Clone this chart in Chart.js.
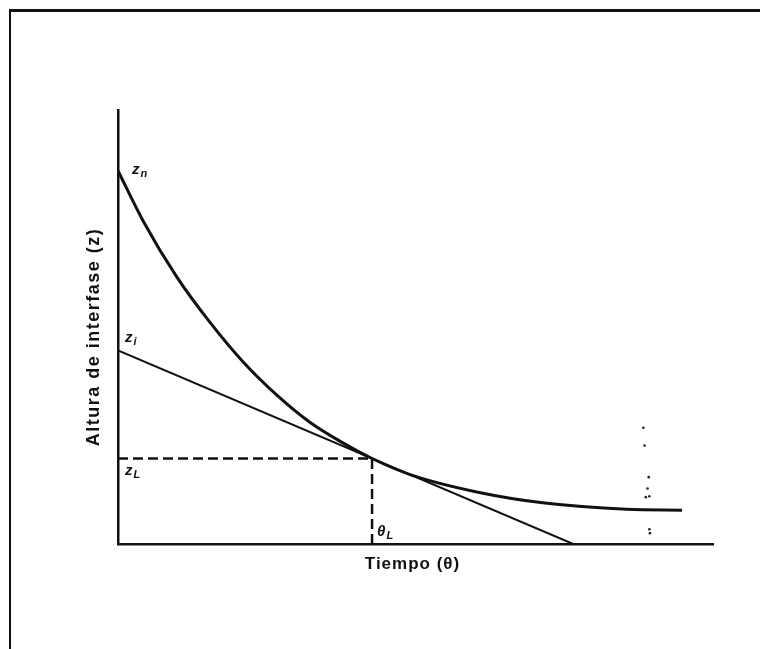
<!DOCTYPE html>
<html>
<head>
  <title>Altura de interfase vs tiempo</title>
  <style>
    body {
      margin: 0;
      background-color: #ffffff;
    }
    .frame {
      position: absolute;
      left: 9px;
      top: 9px;
      width: 760px;
      height: 660px;
      border-left: 2px solid #111;
      border-top: 3px solid #111;
    }
    canvas {
      position: absolute;
      left: 0;
      top: 0;
    }
  </style>
</head>
<body>
  <div class="frame"></div>
  <canvas id="settlingChart" width="760" height="649"></canvas>

  <script src="https://cdn.jsdelivr.net/npm/chart.js"></script>
  <script>
    // curva de sedimentacion (tiempo, altura de interfase)
    const timeTheta = [0, 4.2, 9.9, 15.5, 21.0, 26.7, 32.3, 37.8, 42.7, 49.1, 60.3, 71.4, 85.5, 94.8];
    const heightZ = [86, 74.5, 61.5, 51.0, 42.0, 34.3, 28.0, 23.3, 19.7, 16.0, 12.0, 9.5, 8.0, 7.8];

    // tangente en el punto (thetaL, zL)
    const tangentTheta = [0, 76.5];
    const tangentZ = [44.6, 0];
    const thetaL = 42.7;
    const zL = 19.7;

    // manchas del escaneo a la derecha
    const speckTheta = [88.3, 88.5, 89.2, 89.0, 88.7, 89.3, 89.3, 89.4, 88.8, 88.2];
    const speckZ = [26.8, 22.7, 15.4, 12.8, 10.8, 11.0, 3.4, 2.5, -14.9, -20.4];

    const toPoints = (xs, ys) => xs.map((v, i) => ({ x: v, y: ys[i] }));

    const labelsPlugin = {
      id: 'labels',
      afterDraw(chart) {
        const ctx = chart.ctx;
        const x = chart.scales.x;
        const y = chart.scales.y;
        ctx.save();
        ctx.fillStyle = '#111';

        function symbol(main, sub, px, py) {
          ctx.textAlign = 'left';
          ctx.textBaseline = 'alphabetic';
          ctx.font = 'italic bold 15px "Liberation Sans"';
          ctx.fillText(main, px, py);
          const w = ctx.measureText(main).width;
          ctx.font = 'italic bold 11px "Liberation Sans"';
          ctx.fillText(sub, px + w + 1, py + 3);
        }

        const x0 = x.getPixelForValue(0);
        symbol('z', 'n', x0 + 14, y.getPixelForValue(heightZ[0]) + 3);
        symbol('z', 'i', x0 + 7, y.getPixelForValue(tangentZ[0]) - 8);
        symbol('z', 'L', x0 + 7, y.getPixelForValue(zL) + 16);
        symbol('\u03b8', 'L', x.getPixelForValue(thetaL) + 5, y.getPixelForValue(0) - 8);

        // titulos de los ejes
        ctx.font = 'bold 17px "Liberation Sans"';
        ctx.textAlign = 'center';
        ctx.textBaseline = 'middle';
        ctx.letterSpacing = '1px';
        ctx.fillText('Tiempo (\u03b8)', (x0 + x.getPixelForValue(100)) / 2 - 3, chart.chartArea.bottom + 20);

        ctx.translate(94, (chart.chartArea.top + chart.chartArea.bottom) / 2 + 10);
        ctx.rotate(-Math.PI / 2);
        ctx.letterSpacing = '1.5px';
        ctx.font = 'bold 18px "Liberation Sans"';
        ctx.fillText('Altura de interfase (z)', 0, 0);
        ctx.restore();
      }
    };

    const ctx = document.getElementById('settlingChart').getContext('2d');
    new Chart(ctx, {
      type: 'scatter',
      data: {
        datasets: [
          {
            label: 'Curva',
            data: toPoints(timeTheta, heightZ),
            showLine: true,
            borderColor: '#111',
            borderWidth: 3,
            pointRadius: 0,
            cubicInterpolationMode: 'monotone'
          },
          {
            label: 'Tangente',
            data: toPoints(tangentTheta, tangentZ),
            showLine: true,
            borderColor: '#111',
            borderWidth: 2,
            pointRadius: 0
          },
          {
            label: 'zL',
            data: toPoints([0, thetaL], [zL, zL]),
            showLine: true,
            borderColor: '#111',
            borderWidth: 2.5,
            borderDash: [10, 5],
            pointRadius: 0
          },
          {
            label: 'thetaL',
            data: toPoints([thetaL, thetaL], [0, zL]),
            showLine: true,
            borderColor: '#111',
            borderWidth: 2.5,
            borderDash: [10, 5],
            pointRadius: 0
          },
          {
            label: 'manchas',
            data: toPoints(speckTheta, speckZ),
            showLine: false,
            pointRadius: 1.3,
            pointBackgroundColor: '#222',
            pointBorderWidth: 0,
            clip: false
          }
        ]
      },
      options: {
        responsive: false,
        animation: false,
        layout: {
          padding: { left: 118, right: 47, top: 110, bottom: 105 }
        },
        plugins: {
          legend: { display: false },
          tooltip: { enabled: false }
        },
        scales: {
          x: {
            type: 'linear',
            min: 0,
            max: 100,
            grid: { display: false },
            ticks: { display: false },
            border: { display: true, color: '#111', width: 2.5 },
            afterFit: s => { s.height = 0; }
          },
          y: {
            type: 'linear',
            min: 0,
            max: 100,
            grid: { display: false },
            ticks: { display: false },
            border: { display: true, color: '#111', width: 2.5 },
            afterFit: s => { s.width = 0; }
          }
        }
      },
      plugins: [labelsPlugin]
    });
  </script>
</body>
</html>
